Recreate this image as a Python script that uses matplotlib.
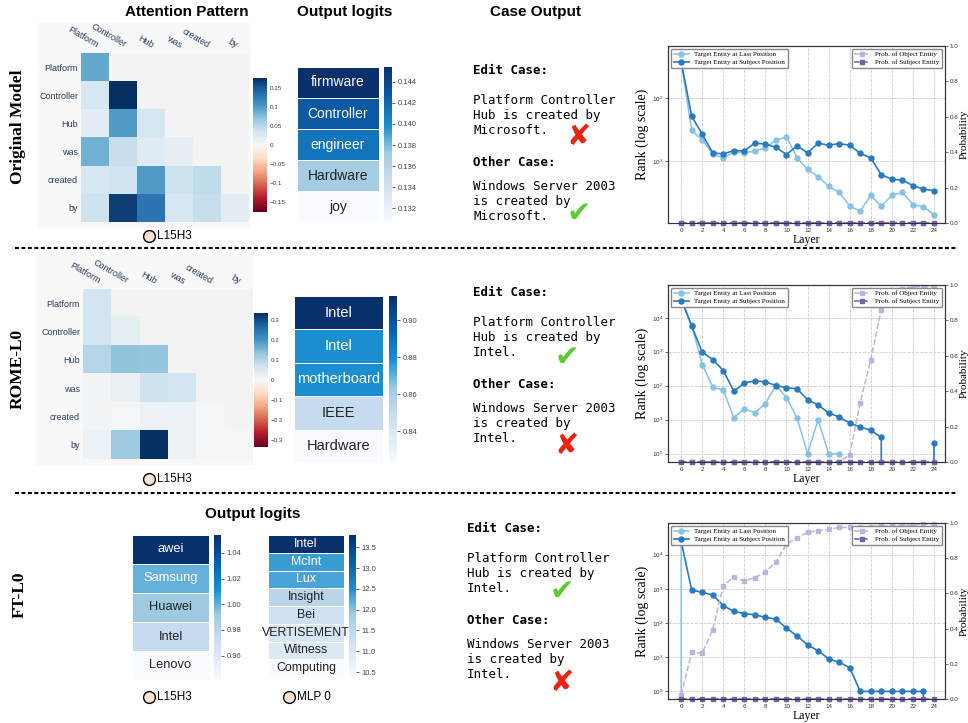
import matplotlib
matplotlib.use("Agg")
import matplotlib.pyplot as plt
import numpy as np
from matplotlib.colors import LinearSegmentedColormap, Normalize
from matplotlib.patches import Rectangle
from matplotlib.ticker import NullLocator, FixedLocator

plt.rcParams['font.family'] = ['Liberation Sans', 'DejaVu Sans']

W, H = 968, 723
nan = np.nan

# ---------------- data ----------------
tokens = ["Platform", "Controller", "Hub", "was", "created", "by"]

attn_orig = np.array([
    [0.090, nan, nan, nan, nan, nan],
    [0.030, 0.176, nan, nan, nan, nan],
    [0.020, 0.100, 0.030, nan, nan, nan],
    [0.085, 0.040, 0.022, 0.015, nan, nan],
    [0.030, 0.035, 0.100, 0.037, 0.045, nan],
    [0.037, 0.165, 0.130, 0.030, 0.040, 0.018],
])
attn_rome = np.array([
    [0.065, nan, nan, nan, nan, nan],
    [0.065, 0.030, nan, nan, nan, nan],
    [0.100, 0.135, 0.130, nan, nan, nan],
    [0.010, 0.025, 0.070, 0.065, nan, nan],
    [0.010, 0.005, 0.020, 0.020, 0.005, nan],
    [0.020, 0.120, 0.337, 0.020, 0.005, 0.005],
])

words_orig = ["firmware", "Controller", "engineer", "Hardware", "joy"]
logit_orig = [0.1454, 0.1428, 0.1413, 0.1370, 0.1307]
words_rome = ["Intel", "Intel", "motherboard", "IEEE", "Hardware"]
logit_rome = [0.913, 0.879, 0.879, 0.850, 0.823]
words_ft_head = ["awei", "Samsung", "Huawei", "Intel", "Lenovo"]
logit_ft_head = [1.054, 1.000, 0.992, 0.975, 0.941]
words_ft_mlp = ["Intel", "McInt", "Lux", "Insight", "Bei", "VERTISEMENT", "Witness", "Computing"]
logit_ft_mlp = [13.80, 12.36, 12.30, 11.58, 11.24, 11.06, 10.96, 10.38]

layers = np.arange(25)

last_orig = [385, 31, 22, 13, 11.3, 14, 13.7, 14.4, 16.5, 21.6, 24.4, 11.4, 7.4, 5.7,
             4.0, 3.2, 1.94, 1.61, 2.87, 1.91, 2.87, 3.2, 2.04, 1.9, 1.41]
subj_orig = [385, 52, 27, 13.6, 13.1, 14.8, 14.6, 19.6, 18.7, 16.7, 12.8, 17.6, 13.6, 19.4,
             18, 19.1, 18, 13.4, 11.3, 6.1, 5.2, 5.0, 4.1, 3.6, 3.4]
pobj_orig = [0, 0, 0, 0, 0, 0, 0, 0, 0, 0, 0, 0, 0, 0, 0, 0, 0, 0, 0, 0, 0, 0, 0, 0, 0]
psubj_orig = [0, 0, 0, 0, 0, 0, 0, 0, 0, 0, 0, 0, 0, 0, 0, 0, 0, 0, 0, 0, 0, 0, 0, 0, 0]

last_rome = [40000, 6000, 420, 92, 74, 11.5, 21, 16, 30, 103, 45, 11.3, 1, 10, 1, 1,
             nan, nan, nan, nan, nan, nan, nan, nan, nan]
subj_rome = [35000, 5700, 970, 590, 280, 69, 121, 139, 130, 101, 88, 81, 39, 27, 16, 12,
             8.0, 6.1, 4.9, 3.0, 0, 0, 0, 0, 2.0]
pobj_rome = [0, 0, 0, 0, 0, 0, 0, 0, 0, 0, 0, 0, 0, 0, 0, 0,
             0.04, 0.334, 0.579, 0.86, 0.97, 0.98, 0.99, 0.99, 0.99]
psubj_rome = [0, 0, 0, 0, 0, 0, 0, 0, 0, 0, 0, 0, 0, 0, 0, 0, 0, 0, 0, 0, 0, 0, 0, 0, 0]

last_ft = [37000, 0, 0, 0, 0, 0, 0, 0, 0, 0, 0, 0, 0, 0, 0, 0, 0, 0, 0, 0, 0, 0, 0, 0, 0]
subj_ft = [24500, 925, 790, 660, 323, 220, 188, 175, 146, 131, 71, 42, 23, 15.5, 9.0,
           7.1, 5.0, 1, 1, 1, 1, 1, 1, 1, 0]
pobj_ft = [0.025, 0.265, 0.259, 0.394, 0.644, 0.695, 0.67, 0.69, 0.72, 0.78, 0.88, 0.915,
           0.947, 0.956, 0.964, 0.975, 0.975, 0.977, 0.98, 0.982, 0.985, 0.987, 0.99, 0.994, 0.994]
psubj_ft = [0, 0, 0, 0, 0, 0, 0, 0, 0, 0, 0, 0, 0, 0, 0, 0, 0, 0, 0, 0, 0, 0, 0, 0, 0]

# ---------------- figure ----------------
fig = plt.figure(figsize=(W / 100, H / 100), dpi=100)


def rect(x0, y0, x1, y1):
    return [x0 / W, 1 - y1 / H, (x1 - x0) / W, (y1 - y0) / H]


# overlay for titles, labels and separators (pixel coords)
ov = fig.add_axes([0, 0, 1, 1])
ov.set_xlim(0, W)
ov.set_ylim(H, 0)
ov.axis('off')

logit_cmap = LinearSegmentedColormap.from_list(
    'logit_blues',
    [(0.0, '#f7fbff'), (0.3, '#c6dbef'), (0.45, '#9ecae1'),
     (0.62, '#1a8fd0'), (0.82, '#0a5aa5'), (1.0, '#08306b')])

head_color = '#2a3f5f'


def attention(box, vals, vmax, cbox, ticks, labels, panel):
    ov.add_patch(Rectangle((panel[0], panel[1]), panel[2] - panel[0], panel[3] - panel[1],
                           facecolor='#f8f8f8', edgecolor='none'))
    ax = fig.add_axes(rect(*box))
    cmap = plt.get_cmap('RdBu').copy()
    cmap.set_bad('#f3f3f3')
    im = ax.imshow(np.ma.masked_invalid(vals), cmap=cmap, vmin=-vmax, vmax=vmax,
                   aspect='auto', interpolation='nearest')
    ax.set_yticks(range(len(tokens)))
    ax.set_yticklabels(tokens, fontsize=6.5, color=head_color)
    ax.set_xticks([])
    ax.tick_params(length=0, pad=2)
    for s in ax.spines.values():
        s.set_visible(False)
    for j, t in enumerate(tokens):
        ax.text(j, -0.62, t, rotation=-30, rotation_mode='anchor', ha='right', va='bottom',
                fontsize=6.5, color=head_color)
    cax = fig.add_axes(rect(*cbox))
    cb = fig.colorbar(im, cax=cax)
    cb.outline.set_visible(False)
    cb.set_ticks(ticks)
    cb.set_ticklabels(labels)
    cax.tick_params(labelsize=4.5, length=0, pad=2, colors=head_color)


def logits(box, words, vals, cbox, ticks, fmt, fs):
    ax = fig.add_axes(rect(*box))
    norm = Normalize(min(vals), max(vals))
    data = np.array(vals).reshape(-1, 1)
    mesh = ax.pcolormesh(data, cmap=logit_cmap, norm=norm, edgecolors='white', linewidth=0.6)
    ax.set_xlim(0, 1)
    ax.set_ylim(len(vals), 0)
    ax.axis('off')
    for i, (w, v) in enumerate(zip(words, vals)):
        ax.text(0.5, i + 0.5, w, ha='center', va='center', fontsize=fs,
                color='white' if norm(v) > 0.5 else '#222222')
    cax = fig.add_axes(rect(*cbox))
    cb = fig.colorbar(mesh, cax=cax)
    cb.outline.set_visible(False)
    cb.set_ticks(ticks)
    cb.set_ticklabels([fmt.format(t) for t in ticks])
    cax.tick_params(labelsize=5.5, length=2.5, width=0.6, pad=1.5, colors='#444444')


def tag(x, y, label):
    ov.plot([x], [y], 'o', ms=8.5, mfc='#fde2d2', mec='black', mew=1.0)
    ov.text(x + 8, y, label, fontsize=8.5, va='center', ha='left')


def case(x, y0, edit_lines, other_lines, edit_ok, other_ok, mark_dx, mark_dy, gap):
    mono = 'DejaVu Sans Mono'
    ov.text(x, y0, "Edit Case:", family=mono, fontsize=9, fontweight='bold', va='center')
    for k, line in enumerate(edit_lines):
        ov.text(x, y0 + 30 + 15 * k, line, family=mono, fontsize=9, va='center')
    ov.text(x, y0 + gap, "Other Case:", family=mono, fontsize=9, fontweight='bold', va='center')
    for k, line in enumerate(other_lines):
        ov.text(x, y0 + gap + 24 + 15 * k, line, family=mono, fontsize=9, va='center')
    for ok, dy in ((edit_ok, mark_dy[0]), (other_ok, mark_dy[1])):
        if ok:
            ov.text(x + mark_dx, y0 + dy, '\u2714', color='#5ccc35', fontsize=21,
                    ha='center', va='center', family='DejaVu Sans')
        else:
            ov.text(x + mark_dx, y0 + dy, '\u2718', color='#ee2211', fontsize=21,
                    ha='center', va='center', family='DejaVu Sans')


def rank_panel(box, last, subj, pobj, psubj, ylim):
    ax = fig.add_axes(rect(*box))
    ax.set_yscale('log', nonpositive='clip')
    ax.plot(layers, last, '-o', color='#88c2e3', ms=3.6, lw=1.1,
            label='Target Entity at Last Position')
    ax.plot(layers, subj, '-o', color='#2a7abf', ms=3.6, lw=1.2,
            label='Target Entity at Subject Position')
    ax.set_ylim(*ylim)
    ax.set_xlim(-1.25, 25.05)
    ax.set_xticks(range(0, 25, 2))
    ax.yaxis.set_minor_locator(NullLocator())
    ax.grid(True, linestyle='--', color='#cccccc', linewidth=0.6)
    ax.set_axisbelow(True)
    ax.tick_params(labelsize=4.5, length=2, width=0.5, pad=1.5, colors='#333333')
    ax.set_xlabel('Layer', family='Liberation Serif', fontsize=8.5, labelpad=1)
    ax.set_ylabel('Rank (log scale)', family='Liberation Serif', fontsize=10, labelpad=2)
    ax2 = ax.twinx()
    ax2.plot(layers, pobj, '--s', color='#bdb3dc', ms=3.4, lw=1.1, clip_on=False,
             label='Prob. of Object Entity')
    ax2.plot(layers, psubj, '--s', color='#7262b3', ms=3.4, lw=1.1, clip_on=False,
             label='Prob. of Subject Entity')
    ax2.set_ylim(0, 1)
    ax2.yaxis.set_major_locator(FixedLocator([0, 0.2, 0.4, 0.6, 0.8, 1.0]))
    ax2.set_yticklabels(['0.0', '0.2', '0.4', '0.6', '0.8', '1.0'])
    ax2.tick_params(labelsize=4.5, length=2, width=0.5, pad=1.5, colors='#333333')
    ax2.set_ylabel('Probability', family='Liberation Serif', fontsize=8, labelpad=0.5)
    for a in (ax, ax2):
        for s in a.spines.values():
            s.set_color('#333333')
            s.set_linewidth(0.8)
    prop = {'family': 'Liberation Serif', 'size': 5}
    h1, l1 = ax.get_legend_handles_labels()
    leg1 = ax2.legend(h1, l1, loc='upper left', prop=prop, edgecolor='#888888',
                      framealpha=1, borderaxespad=0.4, handlelength=2.2, labelspacing=0.3)
    ax2.add_artist(leg1)
    ax2.legend(loc='upper right', prop=prop, edgecolor='#888888', framealpha=1,
               borderaxespad=0.4, handlelength=2.2, labelspacing=0.3)


# ---------------- headers ----------------
ov.text(187, 12, "Attention Pattern", fontsize=11, fontweight='bold', ha='center', va='center')
ov.text(345, 12, "Output logits", fontsize=11, fontweight='bold', ha='center', va='center')
ov.text(535, 12, "Case Output", fontsize=11, fontweight='bold', ha='center', va='center')
ov.text(253, 514, "Output logits", fontsize=11, fontweight='bold', ha='center', va='center')

serif_bold = dict(family='Liberation Serif', fontsize=12.5, fontweight='bold',
                  rotation=90, ha='center', va='center')
ov.text(18, 127, "Original Model", **serif_bold)
ov.text(18, 369, "ROME-L0", **serif_bold)
ov.text(20, 595, "FT-L0", **serif_bold)

for yy in (248, 493):
    ov.plot([15, 958], [yy, yy], color='black', lw=1.5, linestyle=(0, (1.9, 1.2)))

# ---------------- row 1: original model ----------------
attention((81, 53, 249, 222), attn_orig, 0.176, (253, 78, 267, 212),
          [0.15, 0.1, 0.05, 0, -0.05, -0.1, -0.15],
          ['0.15', '0.1', '0.05', '0', '\u22120.05', '\u22120.1', '\u22120.15'],
          (37, 23, 251, 228))
tag(149, 236, "L15H3")
logits((297, 67, 379, 222), words_orig, logit_orig, (384, 67, 392, 222),
       [0.132, 0.134, 0.136, 0.138, 0.140, 0.142, 0.144], '{:.3f}', 10)
case(473, 70, ["Platform Controller", "Hub is created by", "Microsoft."],
     ["Windows Server 2003", "is created by", "Microsoft."], False, True, 106, (67, 144), 92)
rank_panel((668, 46, 945, 223), last_orig, subj_orig, pobj_orig, psubj_orig, (1.04, 684))

# ---------------- row 2: ROME-L0 ----------------
attention((83, 289, 252, 459), attn_rome, 0.337, (254, 313, 268, 447),
          [0.3, 0.2, 0.1, 0, -0.1, -0.2, -0.3],
          ['0.3', '0.2', '0.1', '0', '\u22120.1', '\u22120.2', '\u22120.3'],
          (36, 255, 253, 465))
tag(149, 479, "L15H3")
logits((294, 296, 383, 463), words_rome, logit_rome, (389, 296, 397, 463),
       [0.84, 0.86, 0.88, 0.90], '{:.2f}', 10.5)
case(473, 292, ["Platform Controller", "Hub is created by", "Intel."],
     ["Windows Server 2003", "is created by", "Intel."], True, False, 94, (66, 154), 92)
rank_panel((668, 285, 945, 462), last_rome, subj_rome, pobj_rome, psubj_rome, (0.57, 9.2e4))

# ---------------- row 3: FT-L0 ----------------
logits((132, 535, 209, 680), words_ft_head, logit_ft_head, (214, 535, 221, 680),
       [0.96, 0.98, 1.00, 1.02, 1.04], '{:.2f}', 9.3)
logits((268, 535, 344, 677), words_ft_mlp, logit_ft_mlp, (349, 535, 356, 677),
       [10.5, 11.0, 11.5, 12.0, 12.5, 13.0, 13.5], '{:.1f}', 8.9)
tag(149, 697, "L15H3")
tag(289, 697, "MLP 0")
case(467, 528, ["Platform Controller", "Hub is created by", "Intel."],
     ["Windows Server 2003", "is created by", "Intel."], True, False, 95, (64, 155), 93)
rank_panel((668, 523, 945, 699), last_ft, subj_ft, pobj_ft, psubj_ft, (0.6, 8.45e4))

fig.savefig("out.png", dpi=100)
